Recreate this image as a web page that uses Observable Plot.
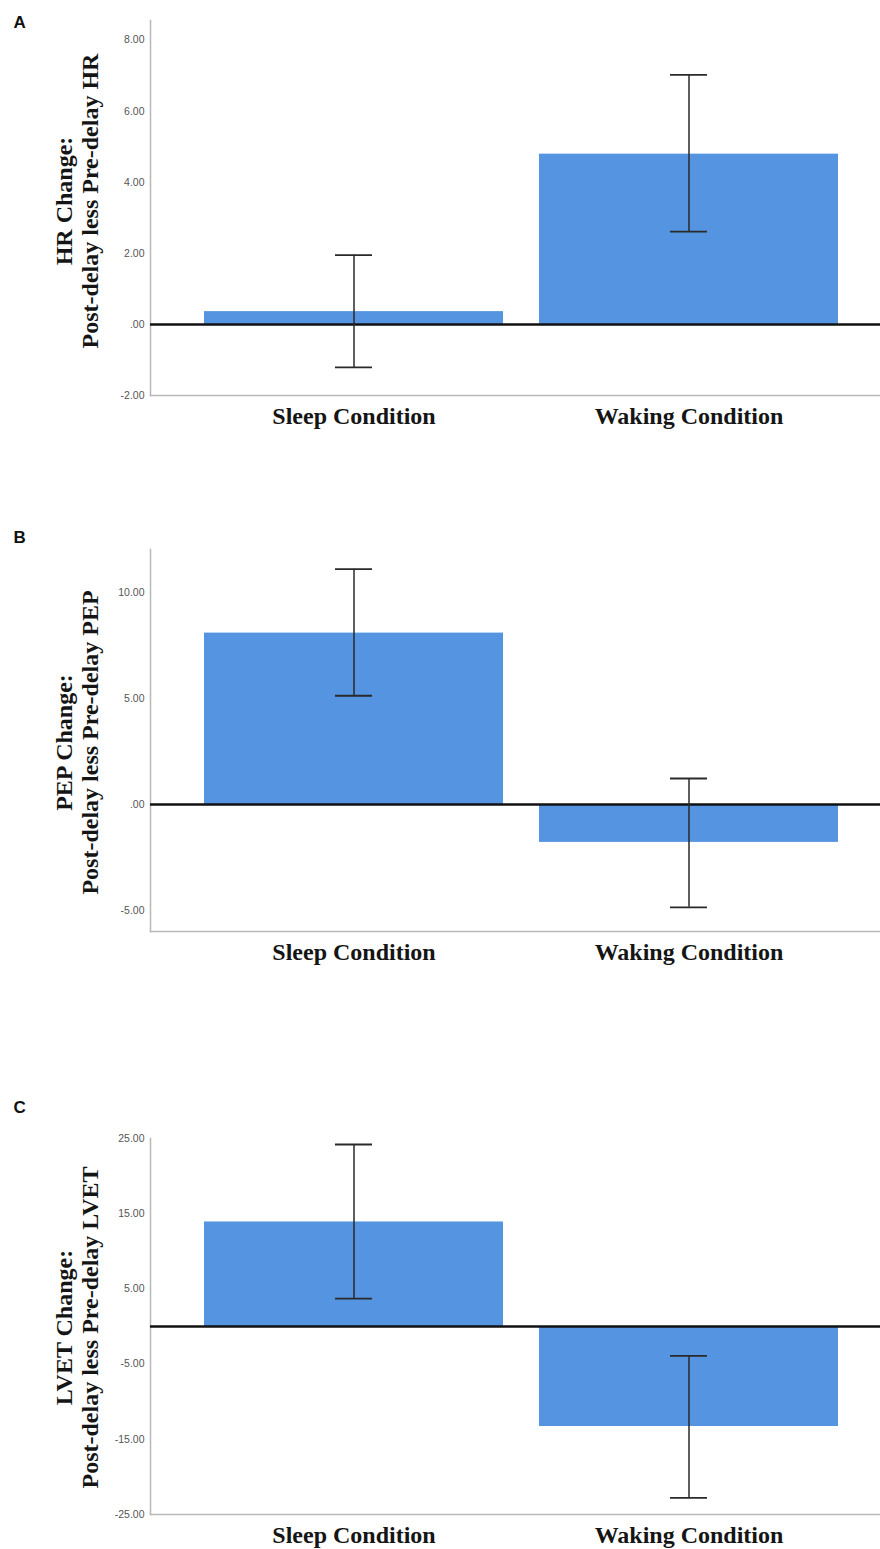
<!DOCTYPE html>
<html>
<head>
<meta charset="utf-8">
<script src="https://cdn.jsdelivr.net/npm/d3@7"></script>
<script src="https://cdn.jsdelivr.net/npm/@observablehq/plot@0.6"></script>
<style>
  html, body { margin: 0; padding: 0; background: #fff; }
  #chart svg { display: block; }
</style>
</head>
<body>
<div id="chart"></div>
<script>
// ---- data ----
const conditions = ["Sleep Condition", "Waking Condition"];

const hrMean = [0.36, 4.79];
const hrLow  = [-1.21, 2.61];
const hrHigh = [1.95, 7.02];
const hrTicks = [-2, 0, 2, 4, 6, 8];
const hrDomain = [-2, 8.55];
const hrTitle = "HR Change:\nPost-delay less Pre-delay HR";

const pepMean = [8.10, -1.79];
const pepLow  = [5.14, -4.86];
const pepHigh = [11.12, 1.23];
const pepTicks = [-5, 0, 5, 10];
const pepDomain = [-6, 12.05];
const pepTitle = "PEP Change:\nPost-delay less Pre-delay PEP";

const lvetMean = [13.9, -13.3];
const lvetLow  = [3.7, -22.8];
const lvetHigh = [24.2, -3.9];
const lvetTicks = [-25, -15, -5, 5, 15, 25];
const lvetDomain = [-25, 25];
const lvetTitle = "LVET Change:\nPost-delay less Pre-delay LVET";

const panelLetters = ["A", "B", "C"];

// ---- styles ----
const barColor = "#5594e1";
const serif = "'Liberation Serif', 'Times New Roman', serif";
const sans = "'Liberation Sans', Arial, sans-serif";
const fmt = d => d === 0 ? ".00" : d.toFixed(2);

function panel(mean, low, high, ticks, domain, title, letter, layout) {
  const data = conditions.map((c, i) => ({cond: c, mean: mean[i], lo: low[i], hi: high[i]}));
  return Plot.plot({
    width: 880,
    height: layout.height,
    marginLeft: 150,
    marginRight: 0,
    marginTop: layout.marginTop,
    marginBottom: layout.marginBottom,
    style: {background: "#fff", overflow: "visible"},
    x: {domain: conditions, paddingInner: 0.107, paddingOuter: 0.14, align: 0.564},
    y: {domain},
    marks: [
      Plot.axisY({ticks, tickFormat: fmt, tickSize: 0, tickPadding: 6, fontSize: 10.5, fill: "#555", fontFamily: sans}),
      Plot.axisX({tickSize: 0, tickPadding: 11, fontSize: 24, fontWeight: "bold", fontFamily: serif, fill: "#151515", label: null}),
      Plot.barY(data, {x: "cond", y: "mean", fill: barColor}),
      Plot.frame({anchor: "left", stroke: "#b8b8b8", strokeWidth: 1.5}),
      Plot.frame({anchor: "bottom", stroke: "#b8b8b8", strokeWidth: 1.5}),
      Plot.ruleY([0], {stroke: "#111", strokeWidth: 2.5}),
      Plot.ruleX(data, {x: "cond", y1: "lo", y2: "hi", stroke: "#2a2a2a", strokeWidth: 1.5}),
      Plot.tickY(data, {x: "cond", y: "lo", insetLeft: 131, insetRight: 131, stroke: "#2a2a2a", strokeWidth: 1.8}),
      Plot.tickY(data, {x: "cond", y: "hi", insetLeft: 131, insetRight: 131, stroke: "#2a2a2a", strokeWidth: 1.8}),
      Plot.text([letter], {frameAnchor: "top-left", textAnchor: "start", lineAnchor: "top",
        dx: -137, dy: layout.letterDy, fontSize: 17, fontWeight: "bold", fontFamily: sans, fill: "#111"}),
      Plot.text([title], {frameAnchor: "left", rotate: -90, textAnchor: "middle", lineAnchor: "middle",
        lineHeight: 1.08, dx: -74, dy: layout.titleDy, fontSize: 24, fontWeight: "bold", fontFamily: serif, fill: "#151515"})
    ]
  });
}

const chart = document.getElementById("chart");
chart.append(
  panel(hrMean, hrLow, hrHigh, hrTicks, hrDomain, hrTitle, panelLetters[0],
    {height: 470, marginTop: 20, marginBottom: 75, letterDy: -5, titleDy: -7}),
  panel(pepMean, pepLow, pepHigh, pepTicks, pepDomain, pepTitle, panelLetters[1],
    {height: 570, marginTop: 79, marginBottom: 109, letterDy: -19, titleDy: 2}),
  panel(lvetMean, lvetLow, lvetHigh, lvetTicks, lvetDomain, lvetTitle, panelLetters[2],
    {height: 509, marginTop: 98, marginBottom: 35, letterDy: -38, titleDy: 1})
);
</script>
</body>
</html>
